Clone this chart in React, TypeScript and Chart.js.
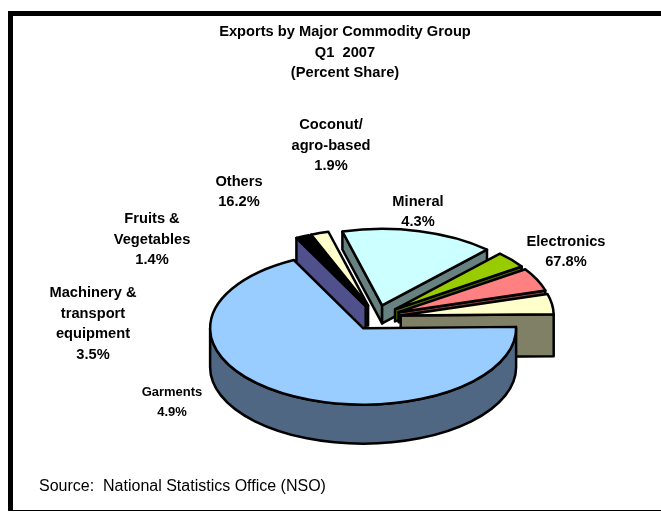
import React, { useEffect, useRef } from "react";
import { Chart, registerables } from "chart.js";

Chart.register(...registerables);

// Commodity shares, listed clockwise from the large slice.
const categories = ["Electronics", "Fruits & Vegetables", "Coconut/agro-based", "Others", "Machinery & transport equipment", "Garments", "Mineral"];
const shareValues = [67.8, 1.4, 1.9, 16.2, 3.5, 4.9, 4.3];

const topColors = ["#99CCFF", "#000000", "#FFFFCC", "#CCFFFF", "#99CC00", "#FF8080", "#FFFFCC"];
const wallColors = ["#4F6782", "#50508C", "#808066", "#678080", "#4D6600", "#804040", "#808066"];
const wallDepths = [39, 27, 20, 18, 12, 10, 42];

const titleLines = ["Exports by Major Commodity Group", "Q1  2007", "(Percent Share)"];
const sourceText = "Source:  National Statistics Office (NSO)";

// Text blocks around the pie: centre x, first baseline, line step, size, lines.
const labelBlocks: [number, number, number, number, string[]][] = [
  [331, 129, 20.5, 14.67, ["Coconut/", "agro-based", "1.9%"]],
  [239, 186, 20, 14.67, ["Others", "16.2%"]],
  [152, 223, 20.5, 14.67, ["Fruits &", "Vegetables", "1.4%"]],
  [93, 297, 20.7, 14.67, ["Machinery &", "transport", "equipment", "3.5%"]],
  [172, 396, 20, 13, ["Garments", "4.9%"]],
  [418, 206, 20, 14.67, ["Mineral", "4.3%"]],
  [566, 246, 20, 14.67, ["Electronics", "67.8%"]],
];

const SQUASH = 0.5;
const EXPLODE = 25;
const FONT = "'Liberation Sans', Arial, sans-serif";

// Canvas plugin that paints each pie arc as a tilted, extruded wedge.
const tiltedPie = {
  id: "tiltedPie",
  beforeDatasetsDraw(chart: any) {
    const ctx: CanvasRenderingContext2D = chart.ctx;
    const arcs = chart.getDatasetMeta(0).data.map((arc: any, index: number) => {
      const { x, y, startAngle, endAngle, outerRadius } = arc.getProps(["x", "y", "startAngle", "endAngle", "outerRadius"], true);
      const mid = (startAngle + endAngle) / 2;
      return {
        index,
        s: startAngle,
        e: endAngle,
        r: outerRadius,
        mid,
        ax: x + EXPLODE * Math.cos(mid),
        ay: y + EXPLODE * SQUASH * Math.sin(mid),
        top: arc.options.backgroundColor,
      };
    });

    // Far wedges first so nearer ones overlap them.
    arcs.sort((a: any, b: any) => Math.sin(a.mid) - Math.sin(b.mid));

    ctx.save();
    ctx.lineWidth = 2.5;
    ctx.lineJoin = "round";
    ctx.strokeStyle = "#000000";

    const paint = (fill: string) => {
      ctx.fillStyle = fill;
      ctx.fill();
      ctx.stroke();
    };

    for (const a of arcs) {
      const depth = wallDepths[a.index];
      const wall = wallColors[a.index];

      const radialFace = (t: number) => {
        const px = a.ax + a.r * Math.cos(t);
        const py = a.ay + a.r * SQUASH * Math.sin(t);
        ctx.beginPath();
        ctx.moveTo(a.ax, a.ay);
        ctx.lineTo(px, py);
        ctx.lineTo(px, py + depth);
        ctx.lineTo(a.ax, a.ay + depth);
        ctx.closePath();
        paint(wall);
      };
      if (Math.sin(a.s - Math.PI / 2) > 0) radialFace(a.s);
      if (Math.sin(a.e + Math.PI / 2) > 0) radialFace(a.e);

      // Rim: only the part of the arc turned towards the viewer.
      const span = a.e - a.s;
      const tau = Math.PI * 2;
      const s0 = ((a.s % tau) + tau) % tau;
      for (const [lo, hi] of [[0, Math.PI], [tau, tau + Math.PI]]) {
        const from = Math.max(s0, lo);
        const to = Math.min(s0 + span, hi);
        if (to <= from) continue;
        ctx.beginPath();
        ctx.ellipse(a.ax, a.ay, a.r, a.r * SQUASH, 0, from, to);
        ctx.ellipse(a.ax, a.ay + depth, a.r, a.r * SQUASH, 0, to, from, true);
        ctx.closePath();
        paint(wall);
      }

      ctx.beginPath();
      ctx.moveTo(a.ax, a.ay);
      ctx.ellipse(a.ax, a.ay, a.r, a.r * SQUASH, 0, a.s, a.e);
      ctx.closePath();
      paint(a.top);
    }
    ctx.restore();
    return false;
  },
  afterDraw(chart: any) {
    const ctx: CanvasRenderingContext2D = chart.ctx;
    ctx.save();

    // Page frame: heavy top and left rules, a fine one along the bottom.
    ctx.fillStyle = "#000000";
    ctx.fillRect(8, 11, 653, 5);
    ctx.fillRect(8, 11, 5, 500);
    ctx.fillRect(8, 510, 653, 1);

    ctx.fillStyle = "#000000";
    ctx.textAlign = "center";
    ctx.textBaseline = "alphabetic";
    ctx.font = `bold 14.67px ${FONT}`;
    titleLines.forEach((line, i) => ctx.fillText(line, 345, 36 + i * 20.5));

    for (const [x, y, step, size, lines] of labelBlocks) {
      ctx.font = `bold ${size}px ${FONT}`;
      lines.forEach((line, i) => ctx.fillText(line, x, y + i * step));
    }

    ctx.textAlign = "left";
    ctx.font = `16px ${FONT}`;
    ctx.fillText(sourceText, 39, 491);
    ctx.restore();
  },
};

export default function App() {
  const canvasRef = useRef<HTMLCanvasElement>(null);

  useEffect(() => {
    const chart = new Chart(canvasRef.current!, {
      type: "pie",
      data: {
        labels: categories,
        datasets: [{ data: shareValues, backgroundColor: topColors, borderWidth: 0 }],
      },
      options: {
        responsive: false,
        animation: false,
        rotation: 89,
        radius: 153,
        layout: { padding: { left: 91, top: 122, right: 0, bottom: 0 } },
        plugins: { legend: { display: false }, tooltip: { enabled: false }, title: { display: false } },
      },
      plugins: [tiltedPie],
    } as any);
    return () => chart.destroy();
  }, []);

  return (
    <canvas
      ref={canvasRef}
      width={661}
      height={513}
      style={{ position: "fixed", left: 0, top: 0, background: "#FFFFFF" }}
    />
  );
}
